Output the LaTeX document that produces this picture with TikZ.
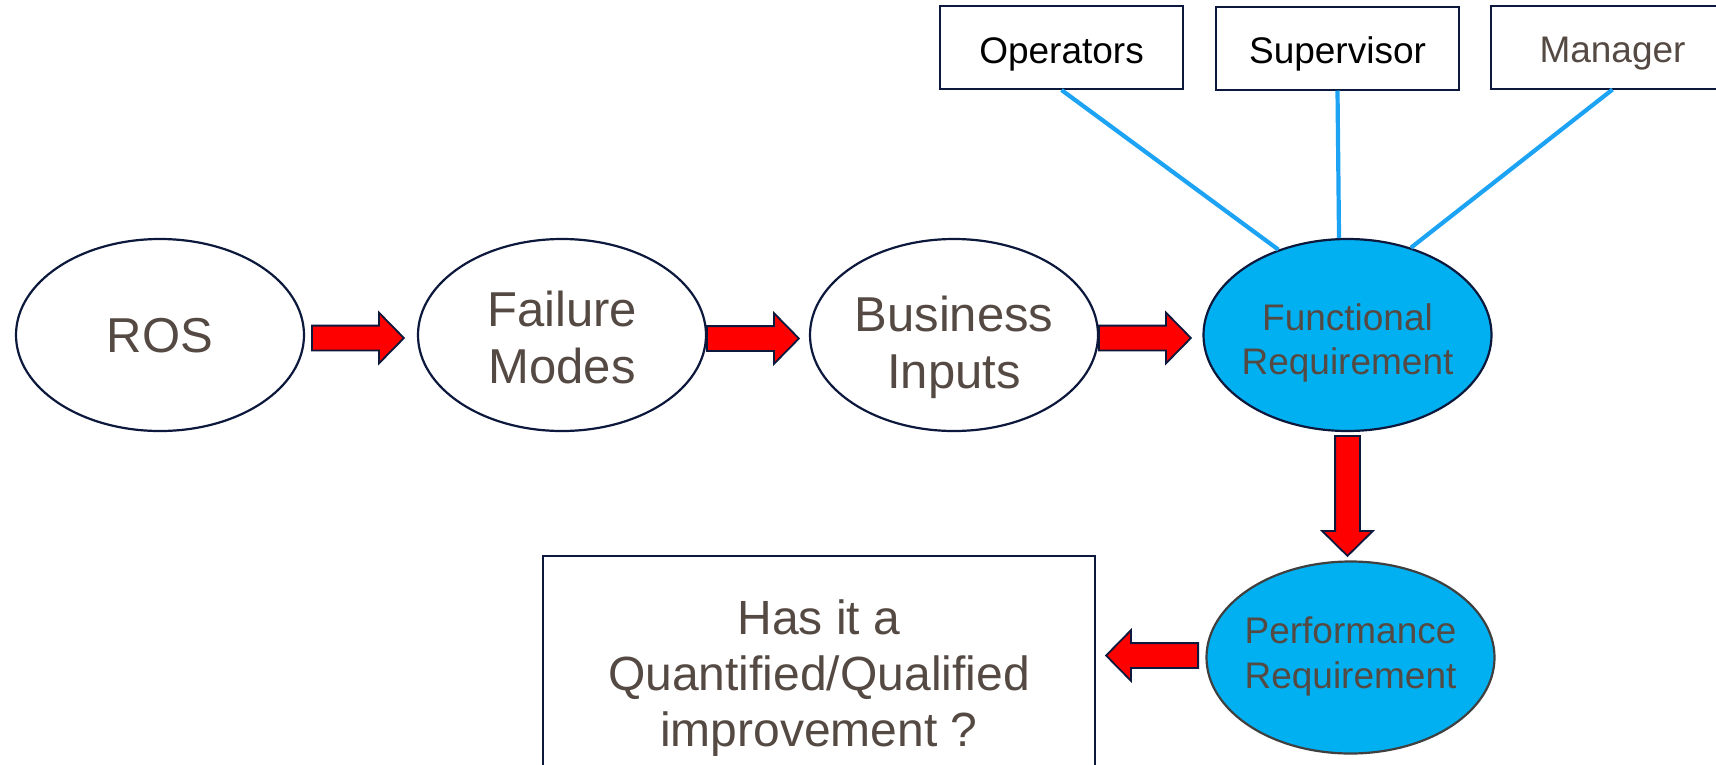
\documentclass[tikz,border=0pt]{standalone}
\usepackage{fontspec}
\setmainfont{Liberation Sans}
\usetikzlibrary{shapes.geometric,shapes.arrows,calc}
\definecolor{navy}{RGB}{12,24,60}
\definecolor{txtbrown}{RGB}{85,74,67}
\definecolor{fillblue}{RGB}{0,176,240}
\definecolor{linkblue}{RGB}{28,163,243}
\definecolor{perfgray}{RGB}{64,64,64}
\begin{document}
\begin{tikzpicture}[x=1pt,y=-1pt,
  oval/.style={ellipse, draw=navy, line width=2.2pt, fill=white, inner sep=0pt,
    minimum width=288pt, minimum height=192pt},
  ovaltext/.style={align=center, text=txtbrown, inner sep=0pt},
  bigtext/.style={font=\fontsize{49pt}{57pt}\selectfont},
  midtext/.style={font=\fontsize{37pt}{44.5pt}\selectfont},
  topbox/.style={rectangle, draw=navy, line width=2pt, fill=white, inner sep=0pt,
    minimum width=243pt, minimum height=83pt, text height=31.6pt, text depth=0pt,
    font=\fontsize{37pt}{42pt}\selectfont},
  blockarrow/.style={single arrow, draw=navy, line width=1.8pt, fill=red,
    inner sep=11.5pt, minimum width=49pt, single arrow head extend=13pt,
    single arrow tip angle=91, anchor=tail},
  link/.style={draw=linkblue, line width=4.2pt}
]
\clip (0,0) rectangle (1716,764);
\fill[white] (0,0) rectangle (1716,764);

% top boxes (the Manager box runs past the right edge)
\node[topbox] (op) at (1061.5,47.5) {Operators};
\node[topbox] (sup) at (1337.5,48) {Supervisor};
\node[topbox, text=txtbrown] (mgr) at (1612.5,47) {Manager};

% ellipses
\node[oval, label={[name=rostext, ovaltext, bigtext, yshift=-1pt]center:ROS}] (ros) at (160,335) {};
\node[oval, label={[name=fmtext, ovaltext, bigtext, yshift=-2pt]center:Failure\\Modes}] (fm) at (562,335) {};
\node[oval, label={[name=bitext, ovaltext, bigtext, yshift=-12pt]center:Business\\Inputs}] (bi) at (954,335) {};
\node[oval, fill=fillblue, label={[name=functext, ovaltext, midtext, yshift=-8pt]center:Functional\\Requirement}] (func) at (1347.5,335) {};
\node[oval, fill=fillblue, draw=perfgray, label={[name=perftext, ovaltext, midtext, yshift=1pt]center:Performance\\Requirement}] (perf) at (1350.5,657.5) {};

% question box (bottom runs past the edge)
\node[rectangle, draw=navy, line width=2pt, inner sep=0pt, minimum width=552pt,
  minimum height=244pt, align=center, text=txtbrown,
  font=\fontsize{48pt}{56pt}\selectfont] (q) at (819,678)
  {Has it a\\Quantified/Qualified\\improvement ?};

% links from top boxes
\draw[link] (op.south) -- (func.129);
\draw[link] (sup.south) -- (func.95);
\draw[link] (mgr.south) -- (func.54);

% block arrows
\node[blockarrow, minimum height=92pt] (a1) at (311,338) {};
\node[blockarrow, minimum height=92pt] (a2) at (706,338.5) {};
\node[blockarrow, minimum height=92pt] (a3) at (1098,338) {};
\node[blockarrow, minimum height=120pt, shape border rotate=270] (a4) at (1347.5,435) {};
\node[blockarrow, minimum height=92pt, shape border rotate=180] (a5) at (1199,655.5) {};
\end{tikzpicture}
\end{document}
